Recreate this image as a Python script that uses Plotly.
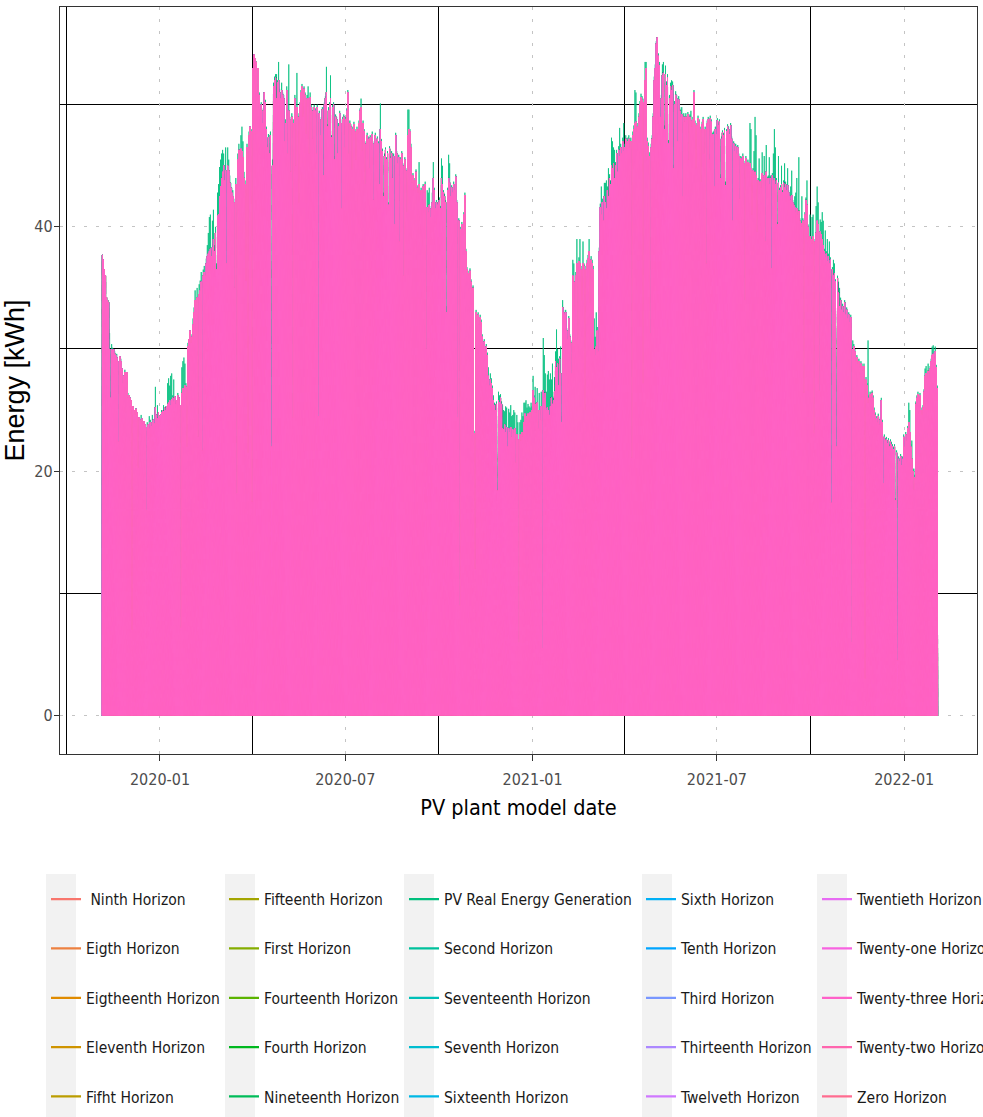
import numpy as np
import pandas as pd
import plotly.graph_objects as go

# Daily peak of the hourly energy output (kWh), one value per day from 2019-11-05.
FIRST_DAY = "2019-11-05"

REAL_2019 = [
    # Nov
    37.7, 37.3, 36.5, 36.0, 34.2, 34.0, 33.8, 31.3, 26.5, 30.4, 30.1, 30.0, 29.8, 29.5, 29.6, 29.0, 23.0, 29.4, 29.2, 28.4,
    27.4, 27.8, 28.3, 27.9, 28.1, 26.4,
    # Dec
    26.2, 26.0, 25.8, 7.2, 25.3, 25.0, 24.8, 25.1, 24.8, 20.5, 24.4, 24.2, 24.6, 24.3, 23.9, 24.1, 23.8, 17.0, 24.0, 23.8,
    24.5, 24.2, 23.7, 24.6, 24.2, 24.0, 26.9, 24.6, 25.4, 24.8, 24.5,
]
FORECAST_2019 = [
    # Nov
    37.7, 37.3, 36.5, 36.0, 34.2, 34.0, 33.8, 30.0, 26.0, 30.0, 29.9, 30.0, 29.6, 29.5, 29.3, 29.0, 22.4, 29.4, 29.0, 28.4,
    27.2, 27.8, 28.1, 27.9, 28.1, 26.0,
    # Dec
    26.2, 26.0, 25.8, 7.0, 25.3, 25.0, 24.6, 25.1, 24.8, 20.3, 24.4, 24.2, 24.0, 24.3, 23.9, 24.1, 23.8, 16.8, 23.6, 23.8,
    23.5, 24.0, 23.7, 24.0, 24.2, 23.9, 25.2, 24.6, 24.3, 24.8, 24.5,
]

REAL_2020 = [
    # Jan
    24.6, 25.0, 25.0, 25.4, 25.2, 25.3, 25.3, 27.2, 27.6, 27.0, 27.8, 28.0, 26.2, 27.5, 26.1, 25.5, 25.8, 26.4, 26.0, 25.4,
    16.0, 28.5, 29.0, 29.3, 28.8, 27.2, 22.5, 30.5, 30.8, 31.5, 30.8,
    # Feb
    31.2, 32.5, 33.4, 34.8, 33.8, 35.0, 23.5, 35.3, 35.6, 36.3, 22.5, 36.5, 36.8, 36.2, 37.4, 38.5, 39.5, 40.8, 41.0, 38.0,
    40.5, 41.4, 38.5, 40.0, 37.0, 42.8, 43.5, 44.9, 45.5,
    # Mar
    46.0, 46.3, 46.0, 45.0, 46.5, 38.0, 46.5, 45.5, 44.2, 43.6, 43.2, 43.0, 42.3, 35.5, 44.0, 18.5, 46.0, 46.8, 46.3, 47.5,
    48.2, 47.0, 44.5, 43.8, 36.0, 46.8, 22.0, 47.8, 48.2, 48.0, 17.8,
    # Apr
    53.0, 54.1, 53.8, 53.5, 51.2, 53.0, 51.0, 49.8, 50.2, 48.8, 49.7, 51.0, 50.4, 48.2, 46.8, 47.6, 46.3, 47.8, 22.4, 45.5,
    51.8, 52.3, 52.5, 52.5, 52.0, 53.5, 51.3, 50.8, 51.8, 51.0,
    # May
    50.8, 47.3, 48.8, 51.5, 46.3, 53.3, 49.0, 44.8, 49.3, 24.8, 48.8, 50.8, 45.3, 52.6, 49.3, 42.4, 50.2, 51.2, 51.7, 49.2,
    51.5, 51.0, 47.8, 50.8, 51.5, 46.3, 51.0, 50.0, 47.4, 49.8, 50.0,
    # Jun
    49.7, 46.3, 50.0, 24.8, 49.5, 47.7, 49.0, 49.8, 44.5, 50.2, 50.7, 53.1, 48.4, 49.8, 50.2, 52.4, 47.5, 50.0, 50.2, 45.8,
    49.2, 49.0, 46.3, 48.5, 49.5, 48.8, 41.8, 49.0, 49.2, 46.8,
    # Jul
    49.0, 49.7, 51.2, 46.3, 48.7, 48.4, 45.0, 48.2, 48.6, 48.0, 45.8, 48.2, 47.8, 48.7, 49.7, 50.5, 46.5, 48.7, 48.0, 43.8,
    47.0, 47.7, 47.4, 45.0, 47.5, 47.1, 47.8, 42.5, 47.0, 47.7, 47.2,
    # Aug
    47.4, 47.0, 43.8, 50.1, 47.2, 46.4, 42.8, 46.0, 46.5, 45.7, 46.2, 42.0, 46.6, 45.8, 46.2, 44.3, 46.0, 40.5, 47.7, 46.2,
    45.4, 45.9, 39.0, 45.7, 46.2, 45.2, 36.5, 45.7, 44.8, 41.5, 49.6,
    # Sep
    49.6, 48.0, 46.8, 43.8, 44.4, 43.2, 44.0, 44.7, 43.4, 43.0, 45.3, 42.8, 43.2, 42.4, 43.5, 43.0, 43.7, 30.5, 43.0, 42.8,
    43.2, 41.0, 41.7, 42.8, 45.3, 43.2, 41.7, 42.2, 42.0, 42.2,
    # Oct
    42.4, 41.7, 45.6, 45.0, 43.0, 42.7, 42.2, 33.5, 43.2, 45.9, 45.2, 42.7, 43.4, 43.0, 43.7, 43.2, 44.3, 42.2, 24.4, 40.7,
    9.5, 40.0, 40.4, 40.0, 41.2, 42.8, 38.2, 36.7, 36.4, 36.2, 36.6,
    # Nov
    35.7, 35.0, 35.2, 23.3, 12.2, 33.2, 32.8, 33.0, 32.2, 32.8, 32.4, 31.2, 30.5, 30.8, 30.0, 30.4, 29.7, 28.5, 27.5, 28.0,
    27.6, 27.0, 26.2, 25.6, 25.5, 25.7, 18.4, 26.5, 26.2, 26.3,
    # Dec
    25.7, 25.4, 25.0, 24.9, 25.3, 25.2, 22.5, 25.1, 24.8, 25.4, 24.5, 24.6, 25.0, 24.8, 21.5, 24.6, 24.0, 6.3, 24.0, 24.2,
    24.8, 24.5, 25.6, 25.6, 25.8, 25.2, 25.5, 25.3, 25.2, 25.6, 25.3,
]
FORECAST_2020 = [
    # Jan
    24.6, 24.8, 25.0, 24.9, 25.2, 25.0, 25.3, 25.5, 25.6, 25.8, 25.4, 25.9, 26.0, 25.7, 26.1, 25.5, 25.8, 26.2, 26.0, 25.4,
    7.2, 26.4, 26.8, 26.5, 27.0, 26.9, 22.0, 30.2, 30.8, 31.5, 30.5,
    # Feb
    31.0, 32.0, 33.0, 34.0, 33.5, 34.2, 22.8, 34.5, 34.8, 35.5, 21.7, 36.0, 36.3, 36.0, 37.0, 37.6, 37.8, 38.0, 38.2, 37.6,
    38.3, 39.0, 38.0, 39.5, 36.5, 40.9, 41.0, 42.5, 43.3,
    # Mar
    44.0, 44.5, 45.0, 43.8, 44.6, 37.0, 45.0, 44.6, 43.6, 43.2, 42.8, 42.5, 42.0, 35.0, 43.5, 18.2, 45.5, 46.3, 46.0, 46.4,
    46.2, 45.7, 44.0, 43.5, 35.6, 46.5, 21.5, 47.5, 48.2, 47.8, 17.5,
    # Apr
    53.0, 54.1, 53.8, 53.5, 51.0, 53.0, 50.8, 49.6, 50.0, 48.5, 49.5, 51.0, 50.2, 48.0, 46.5, 47.3, 46.0, 47.5, 22.0, 45.0,
    51.5, 52.0, 52.2, 50.5, 51.8, 52.0, 51.0, 50.5, 51.2, 50.8,
    # May
    50.5, 47.0, 48.5, 51.2, 46.0, 49.5, 48.8, 44.5, 49.0, 24.4, 48.5, 50.5, 45.0, 49.8, 49.0, 42.0, 50.0, 51.0, 51.5, 49.0,
    51.3, 50.8, 47.6, 50.5, 50.5, 46.0, 50.6, 49.8, 47.2, 49.5, 49.8,
    # Jun
    49.5, 46.0, 49.8, 24.5, 49.3, 47.5, 48.8, 49.6, 44.2, 50.0, 50.5, 51.0, 48.2, 49.5, 50.0, 50.5, 47.3, 49.8, 50.0, 45.5,
    49.0, 48.8, 46.0, 48.2, 49.3, 48.5, 41.5, 48.8, 49.0, 46.5,
    # Jul
    48.8, 49.5, 51.0, 46.0, 48.5, 48.2, 44.7, 48.0, 48.4, 47.8, 45.5, 48.0, 47.6, 48.5, 49.5, 49.8, 46.2, 48.5, 47.8, 43.5,
    46.8, 47.5, 47.2, 44.8, 47.3, 46.9, 47.6, 42.2, 46.8, 47.5, 47.0,
    # Aug
    47.2, 46.8, 43.5, 48.0, 47.0, 46.2, 42.5, 45.8, 46.3, 45.5, 46.0, 41.8, 46.4, 45.6, 46.0, 44.0, 45.8, 40.2, 47.5, 46.0,
    45.2, 45.7, 38.8, 45.5, 46.0, 45.0, 36.0, 45.5, 44.6, 41.2, 47.5,
    # Sep
    48.0, 47.8, 46.5, 43.6, 44.2, 43.0, 43.8, 44.5, 43.2, 42.8, 43.5, 42.6, 43.0, 42.2, 43.3, 42.8, 43.5, 30.0, 41.6, 41.2,
    41.8, 40.8, 41.5, 42.0, 44.0, 43.0, 41.5, 42.0, 41.8, 42.0,
    # Oct
    42.2, 41.5, 44.0, 43.5, 42.8, 42.5, 42.0, 33.0, 43.0, 44.0, 43.6, 42.5, 43.2, 42.8, 43.5, 43.0, 44.1, 42.0, 24.4, 40.5,
    9.0, 39.8, 40.2, 39.8, 41.0, 42.6, 38.0, 36.5, 36.2, 36.0, 36.4,
    # Nov
    35.5, 34.8, 35.0, 23.1, 12.0, 33.0, 32.6, 32.8, 32.0, 32.6, 32.2, 31.0, 30.3, 30.6, 29.8, 30.2, 29.5, 27.8, 27.0, 27.5,
    27.2, 26.8, 25.8, 25.4, 25.0, 25.5, 18.4, 25.8, 25.6, 26.0,
    # Dec
    25.5, 23.5, 23.4, 23.8, 23.2, 23.6, 22.0, 23.5, 23.2, 23.6, 22.8, 23.4, 23.1, 23.5, 20.7, 23.0, 22.6, 6.0, 23.0, 22.5,
    23.2, 22.8, 24.0, 24.7, 24.5, 24.2, 24.7, 24.0, 24.8, 24.4, 25.0,
]

REAL_2021 = [
    # Jan
    27.8, 26.2, 26.9, 25.0, 26.8, 23.8, 26.4, 24.4, 26.5, 5.8, 30.9, 29.5, 28.0, 26.5, 27.9, 28.2, 27.5, 28.0, 27.5, 28.8,
    26.0, 27.7, 29.8, 31.6, 30.0, 29.2, 29.4, 30.2, 24.5, 34.0, 33.2,
    # Feb
    33.0, 33.2, 31.7, 31.0, 32.7, 31.2, 30.7, 28.5, 37.3, 37.0, 35.0, 36.3, 39.0, 31.5, 37.5, 39.0, 36.8, 35.0, 38.8, 37.0,
    25.5, 36.8, 37.3, 37.7, 39.0, 34.5, 37.6, 37.3,
    # Mar
    36.8, 32.5, 31.0, 33.0, 31.8, 30.2, 38.3, 41.9, 43.3, 42.3, 40.8, 43.6, 43.6, 43.8, 43.3, 44.8, 44.3, 43.8, 47.3, 47.0,
    46.5, 46.3, 45.3, 46.3, 44.8, 46.6, 48.1, 46.8, 46.3, 47.3, 48.5,
    # Apr
    46.8, 47.5, 47.1, 47.3, 47.5, 46.8, 47.3, 21.5, 47.8, 48.3, 51.2, 51.0, 48.1, 48.5, 49.3, 50.3, 50.9, 50.7, 27.8, 50.5,
    53.5, 53.5, 47.3, 46.9, 46.1, 31.8, 46.8, 47.5, 49.3, 52.3,
    # May
    53.3, 55.2, 55.5, 54.2, 53.5, 49.3, 50.8, 53.3, 53.5, 48.3, 53.2, 51.9, 52.5, 47.1, 50.8, 51.8, 52.0, 51.9, 45.1, 50.3,
    51.1, 50.8, 47.3, 50.7, 49.8, 49.6, 49.8, 42.8, 49.3, 48.9, 49.3,
    # Jun
    49.0, 49.4, 45.8, 49.2, 49.5, 48.4, 49.0, 51.2, 48.7, 45.0, 48.5, 49.1, 48.8, 48.2, 44.0, 48.6, 49.0, 46.2, 48.2, 37.3,
    48.7, 49.0, 45.8, 49.1, 48.8, 47.7, 47.8, 47.9, 48.2, 47.8,
    # Jul
    48.9, 48.5, 48.8, 44.3, 47.4, 47.9, 47.7, 48.1, 43.7, 48.0, 48.4, 48.2, 47.8, 48.5, 47.4, 40.8, 47.0, 46.4, 46.8, 46.2,
    46.7, 46.0, 42.6, 45.8, 45.7, 46.0, 45.4, 34.5, 45.8, 45.2, 45.5,
    # Aug
    45.2, 48.5, 48.0, 41.3, 44.8, 46.2, 49.0, 47.5, 39.8, 44.0, 45.6, 43.9, 43.4, 46.1, 44.2, 45.8, 39.0, 46.7, 44.1, 44.2,
    45.7, 44.2, 36.9, 44.4, 46.0, 48.0, 46.5, 44.0, 40.4, 45.8, 43.2,
    # Sep
    43.4, 45.0, 43.0, 43.8, 45.2, 43.7, 43.2, 44.8, 43.0, 42.7, 43.3, 44.6, 42.2, 42.0, 42.5, 42.8, 44.0, 41.2, 45.7, 40.7,
    40.5, 42.5, 40.7, 26.8, 41.2, 42.4, 43.8, 40.2, 39.2, 41.0,
    # Oct
    39.2, 40.8, 41.0, 23.5, 39.0, 41.7, 43.3, 42.0, 27.0, 40.6, 40.4, 41.2, 40.5, 38.2, 39.7, 38.0, 39.0, 37.8, 38.8, 37.5,
    17.8, 36.7, 37.3, 37.0, 35.7, 22.4, 36.0, 35.5, 35.0, 34.2, 33.4,
    # Nov
    33.7, 33.2, 34.0, 33.0, 33.4, 32.7, 33.0, 32.4, 32.8, 6.3, 30.7, 30.4, 30.0, 29.2, 29.5, 29.0, 29.2, 28.7, 29.0, 28.8,
    28.4, 28.8, 3.2, 27.7, 27.2, 30.7, 26.2, 26.5, 26.2, 26.6,
    # Dec
    26.2, 25.2, 24.8, 24.5, 24.2, 24.7, 24.0, 24.4, 26.0, 24.2, 19.5, 23.0, 22.7, 22.8, 22.5, 22.7, 22.2, 22.6, 22.4, 22.2,
    22.0, 22.2, 17.8, 21.7, 4.8, 21.2, 21.0, 21.4, 20.7, 21.2, 23.0,
]
FORECAST_2021 = [
    # Jan
    26.6, 26.0, 25.5, 24.8, 25.6, 23.5, 25.0, 24.2, 25.3, 5.5, 26.6, 26.0, 26.4, 25.0, 25.2, 25.0, 24.6, 25.3, 26.0, 25.5,
    25.8, 26.5, 29.0, 28.5, 28.8, 27.0, 29.2, 28.0, 24.0, 33.4, 33.0,
    # Feb
    32.8, 33.0, 31.5, 30.8, 32.5, 31.0, 30.5, 28.0, 36.0, 35.5, 33.5, 36.0, 37.0, 30.8, 37.2, 37.0, 36.5, 34.0, 37.0, 36.8,
    25.0, 36.5, 37.0, 37.4, 38.0, 33.8, 37.3, 37.0,
    # Mar
    36.5, 30.0, 29.5, 30.2, 31.5, 29.8, 38.0, 41.6, 41.0, 42.0, 40.5, 42.5, 42.0, 41.5, 43.0, 42.5, 44.0, 43.5, 45.0, 44.8,
    45.2, 44.0, 45.0, 46.0, 44.5, 46.3, 45.8, 46.5, 46.0, 47.0, 46.2,
    # Apr
    46.5, 47.2, 46.8, 47.0, 47.2, 46.5, 47.0, 21.1, 47.5, 48.0, 48.5, 48.6, 47.8, 48.2, 49.0, 50.0, 50.6, 50.4, 27.2, 50.2,
    52.0, 53.0, 47.0, 46.6, 45.8, 31.3, 46.5, 47.2, 49.0, 52.0,
    # May
    53.0, 55.0, 55.5, 54.0, 53.2, 49.0, 50.5, 52.4, 52.6, 48.0, 52.5, 51.6, 52.2, 46.8, 50.5, 51.5, 51.2, 51.6, 44.8, 50.0,
    50.8, 50.5, 47.0, 50.4, 49.5, 49.0, 49.2, 42.5, 49.0, 48.6, 49.0,
    # Jun
    48.8, 49.2, 45.5, 49.0, 48.7, 48.2, 48.8, 51.0, 48.5, 44.8, 48.3, 48.9, 48.6, 48.0, 43.7, 48.4, 48.8, 46.0, 48.0, 37.0,
    48.5, 48.8, 45.5, 48.9, 48.6, 47.5, 47.6, 43.3, 48.0, 47.6,
    # Jul
    48.7, 48.3, 48.6, 44.0, 47.2, 47.7, 47.5, 47.9, 43.4, 47.8, 48.2, 48.0, 47.6, 48.3, 47.2, 40.5, 46.8, 46.2, 46.6, 46.0,
    46.5, 45.8, 42.3, 45.6, 45.5, 45.8, 45.2, 34.0, 45.6, 45.0, 45.3,
    # Aug
    45.0, 45.2, 44.8, 41.0, 44.6, 44.0, 44.5, 44.2, 39.6, 43.8, 43.4, 43.7, 43.2, 44.4, 44.0, 44.2, 38.8, 44.5, 43.9, 44.0,
    43.5, 44.0, 36.6, 44.2, 43.8, 44.0, 43.5, 43.8, 40.2, 43.6, 43.0,
    # Sep
    43.2, 43.5, 42.8, 43.6, 43.2, 43.5, 43.0, 43.4, 42.8, 42.5, 42.2, 42.6, 42.0, 41.8, 41.6, 41.2, 41.5, 41.0, 41.3, 40.5,
    40.3, 40.0, 40.5, 26.4, 41.0, 42.2, 41.8, 40.0, 39.0, 39.2,
    # Oct
    39.0, 38.6, 39.2, 23.1, 38.8, 39.5, 40.5, 40.2, 26.6, 39.6, 39.4, 39.0, 38.5, 38.0, 37.5, 37.8, 37.2, 37.6, 37.0, 37.3,
    17.4, 36.5, 36.0, 36.2, 35.5, 22.0, 35.8, 34.6, 33.5, 34.0, 33.2,
    # Nov
    33.5, 33.0, 33.8, 32.8, 33.2, 32.5, 32.8, 32.2, 32.6, 6.0, 30.0, 30.2, 29.8, 29.0, 29.3, 28.8, 29.0, 28.5, 28.8, 28.6,
    28.2, 28.6, 3.0, 27.5, 27.0, 25.6, 26.0, 26.3, 26.0, 26.4,
    # Dec
    26.0, 25.0, 24.6, 24.3, 24.0, 24.5, 23.8, 24.2, 25.8, 24.0, 19.0, 22.8, 22.5, 22.6, 22.3, 22.5, 22.0, 22.4, 22.2, 22.0,
    21.8, 22.0, 17.6, 21.5, 4.5, 21.0, 20.8, 21.2, 20.5, 21.0, 22.8,
]

REAL_2022 = [
    # Jan
    22.2, 23.2, 22.7, 23.7, 25.6, 25.0, 22.2, 22.5, 20.2, 20.2, 19.7, 25.7, 26.2, 26.5, 26.0, 26.4, 25.2, 24.8, 25.4, 26.7,
    28.4, 28.6, 27.8, 28.8, 28.2, 28.6, 29.2, 30.2, 30.3, 29.4, 30.2,
    # Feb
    28.7, 27.0,
]
FORECAST_2022 = [
    # Jan
    22.0, 23.0, 22.5, 23.5, 24.0, 23.2, 22.0, 21.0, 20.0, 18.5, 19.5, 25.5, 26.0, 26.3, 25.8, 26.2, 25.0, 24.6, 25.2, 26.5,
    27.8, 28.0, 27.6, 28.2, 28.0, 28.4, 29.0, 29.5, 29.6, 29.2, 29.8,
    # Feb
    28.5, 26.8,
]

# Output between the daily production windows
NIGHT_OUTPUT = 0.0

# Series names, in legend order (column by column)
SERIES = [
    "\u00a0Ninth Horizon", "Eigth Horizon", "Eigtheenth Horizon", "Eleventh Horizon", "Fifht Horizon",
    "Fifteenth Horizon", "First Horizon", "Fourteenth Horizon", "Fourth Horizon", "Nineteenth Horizon",
    "PV Real Energy Generation", "Second Horizon", "Seventeenth Horizon", "Seventh Horizon", "Sixteenth Horizon",
    "Sixth Horizon", "Tenth Horizon", "Third Horizon", "Thirteenth Horizon", "Twelveth Horizon",
    "Twentieth Horizon", "Twenty-one Horizon", "Twenty-three Horizon", "Twenty-two Horizon", "Zero Horizon",
]
REAL_NAME = "PV Real Energy Generation"
TOP_NAME = "Twenty-three Horizon"

X_TICKS = ["2020-01-01", "2020-07-01", "2021-01-01", "2021-07-01", "2022-01-01"]
X_MINOR = ["2019-10-01", "2020-04-01", "2020-10-01", "2021-04-01", "2021-10-01"]
Y_TICKS = [0, 20, 40]
Y_MINOR = [10, 30, 50]


def hcl_hex(h, c=100.0, l=65.0):
    """Polar CIE-Luv colour to sRGB hex (same as R's hcl with clipping)."""
    xn, yn, zn = 95.047, 100.0, 108.883
    un = 4 * xn / (xn + 15 * yn + 3 * zn)
    vn = 9 * yn / (xn + 15 * yn + 3 * zn)
    hr = np.deg2rad(h)
    u, v = c * np.cos(hr), c * np.sin(hr)
    Y = yn * ((l + 16) / 116) ** 3 if l > 8 else yn * l / 903.3
    up = u / (13 * l) + un
    vp = v / (13 * l) + vn
    X = 9.0 * Y * up / (4 * vp)
    Z = -X / 3 - 5 * Y + 3 * Y / vp
    X, Y, Z = X / 100, Y / 100, Z / 100
    r = 3.240479 * X - 1.537150 * Y - 0.498535 * Z
    g = -0.969256 * X + 1.875992 * Y + 0.041556 * Z
    b = 0.055648 * X - 0.204043 * Y + 1.057311 * Z

    def gam(t):
        t = min(max(t, 0.0), 1.0)
        return 12.92 * t if t <= 0.0031308 else 1.055 * t ** (1 / 2.4) - 0.055

    return "#%02X%02X%02X" % tuple(int(round(255 * gam(t))) for t in (r, g, b))


def hue_palette(n):
    hues = np.linspace(15, 375, n + 1)[:-1]
    return [hcl_hex(h) for h in hues]


real = np.array(REAL_2019 + REAL_2020 + REAL_2021 + REAL_2022)
forecast = np.array(FORECAST_2019 + FORECAST_2020 + FORECAST_2021 + FORECAST_2022)
assert len(real) == len(forecast) == 821, (len(real), len(forecast))

days = pd.date_range(FIRST_DAY, periods=len(real), freq="D")
offsets = pd.to_timedelta([5, 12, 19], unit="h")
stamps = (days.values[:, None] + offsets.values[None, :]).ravel()
x_time = np.datetime_as_string(stamps, unit="m")


def daily_profile(peaks):
    y = np.full((len(peaks), 3), NIGHT_OUTPUT)
    y[:, 1] = peaks
    return y.ravel()


colors = dict(zip(SERIES, hue_palette(len(SERIES))))
columns = [SERIES[i:i + 5] for i in range(0, 25, 5)]
legend_of = {}
for ci, col in enumerate(columns):
    for name in col:
        legend_of[name] = "legend" if ci == 0 else "legend%d" % (ci + 1)

draw_order = [REAL_NAME] + [s for s in SERIES if s not in (REAL_NAME, TOP_NAME)] + [TOP_NAME]

fig = go.Figure()
for name in draw_order:
    peaks = real if name == REAL_NAME else forecast
    fig.add_trace(go.Scatter(
        x=x_time, y=daily_profile(peaks), mode="lines", name=name,
        line=dict(color=colors[name], width=0.75),
        legendgroup=name, showlegend=False, hoverinfo="skip",
    ))

# legend keys drawn with a thicker stroke than the dense hourly lines
for name in SERIES:
    fig.add_trace(go.Scatter(
        x=[None], y=[None], mode="lines", name=name,
        line=dict(color=colors[name], width=2.3),
        legend=legend_of[name], legendgroup=name, legendrank=SERIES.index(name) + 1,
        hoverinfo="skip",
    ))

CONDENSED = "DejaVu Sans Condensed, Liberation Sans Narrow, Arial Narrow, sans-serif"
PLOT_L, PLOT_R, PLOT_T, PLOT_B = 60, 977, 7, 754
W, H = 983, 1117
pw, ph = PLOT_R - PLOT_L, PLOT_B - PLOT_T


def px_x(p):
    return (p - PLOT_L) / pw


def px_y(p):
    return (PLOT_B - p) / ph


legend_left = [46, 224, 404, 641, 817]
layout_legends = {}
for ci, left in enumerate(legend_left):
    key = "legend" if ci == 0 else "legend%d" % (ci + 1)
    layout_legends[key] = dict(
        x=px_x(left), xanchor="left", y=px_y(882.5), yanchor="top",
        orientation="v", bgcolor="rgba(0,0,0,0)", borderwidth=0,
        font=dict(family=CONDENSED, size=15.5, color="#1A1A1A"),
        tracegroupgap=26.2, itemclick=False, itemdoubleclick=False,
    )

# grey key backgrounds behind each legend column
key_bands = [(46, 76), (225, 255), (404, 434), (642, 672), (817, 847)]
shapes = [
    dict(type="rect", xref="paper", yref="paper", x0=px_x(a), x1=px_x(b), y0=px_y(874), y1=px_y(H),
         fillcolor="#F2F2F2", line=dict(width=0), layer="below")
    for a, b in key_bands
]

fig.update_layout(
    width=W, height=H,
    margin=dict(l=PLOT_L, r=W - PLOT_R, t=PLOT_T, b=H - PLOT_B, autoexpand=False),
    paper_bgcolor="white", plot_bgcolor="white",
    font=dict(family=CONDENSED, color="#4D4D4D"),
    showlegend=True,
    shapes=shapes,
    **layout_legends,
)

fig.update_xaxes(
    type="date", range=["2019-09-24 19:00", "2022-03-13 12:00"],
    tickvals=X_TICKS, tickformat="%Y-%m",
    tickfont=dict(family=CONDENSED, size=16, color="#4D4D4D"),
    ticks="outside", ticklen=6, tickwidth=1.1, tickcolor="#333333", ticklabelstandoff=5,
    showline=True, mirror=True, linecolor="#333333", linewidth=1.3,
    showgrid=True, gridcolor="#C4C4C4", gridwidth=1.4, griddash="3px,9px",
    minor=dict(tickmode="array", tickvals=X_MINOR, showgrid=True, gridcolor="#000000", gridwidth=1.1,
               griddash="solid", ticks=""),
    zeroline=False,
    title=dict(text="PV plant model date", font=dict(family=CONDENSED, size=21.5, color="#000000"), standoff=11),
)
fig.update_yaxes(
    range=[-3.16, 58.0],
    tickvals=Y_TICKS,
    tickfont=dict(family=CONDENSED, size=16, color="#4D4D4D"),
    ticks="outside", ticklen=5, tickwidth=1.1, tickcolor="#333333", ticklabelstandoff=-2,
    showline=True, mirror=True, linecolor="#333333", linewidth=1.3,
    showgrid=True, gridcolor="#C4C4C4", gridwidth=1.4, griddash="3px,9px",
    minor=dict(tickmode="array", tickvals=Y_MINOR, showgrid=True, gridcolor="#000000", gridwidth=1.1,
               griddash="solid", ticks=""),
    zeroline=False,
    title=dict(text="Energy [kWh]", font=dict(family="Liberation Sans, Arial, sans-serif", size=27, color="#000000"),
               standoff=4),
)

fig.write_html("out.html")
